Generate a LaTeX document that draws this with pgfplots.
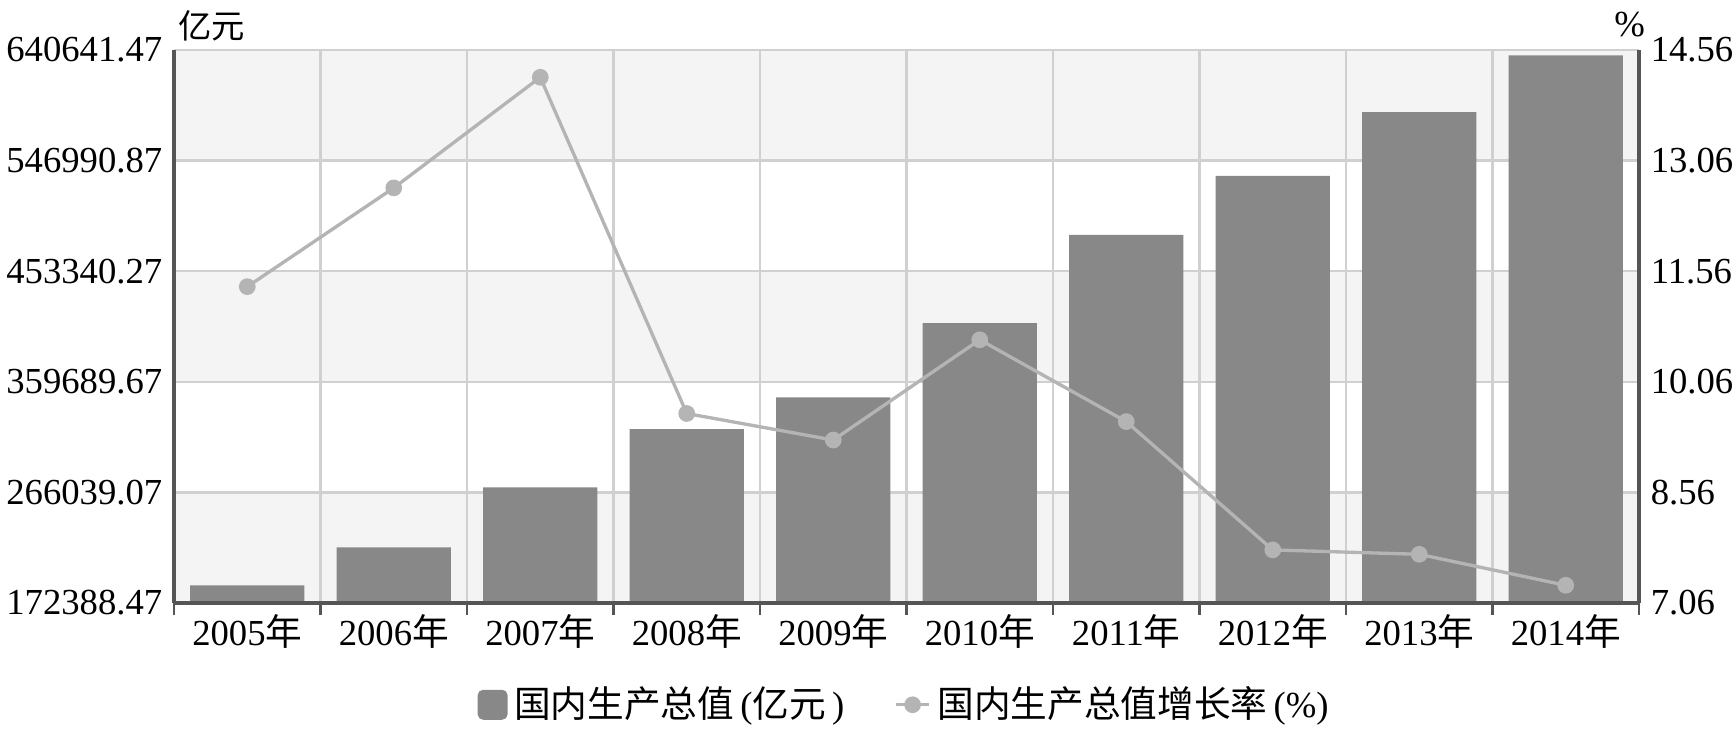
\documentclass[border=0pt]{standalone}
\usepackage{fontspec}
\setmainfont{Liberation Serif}
\newfontfamily\cjk{Noto Sans CJK SC}
\usepackage{pgfplots}
\pgfplotsset{compat=1.18}
\pgfplotsset{mylinelegend/.style={legend image code/.code={\draw[mark repeat=2,mark phase=2,##1] plot coordinates {(0pt,0pt) (5pt,0pt) (10pt,0pt)};}}}
\definecolor{bargray}{HTML}{888888}
\definecolor{linegray}{HTML}{B4B4B4}
\definecolor{gridgray}{HTML}{D0D0D0}
\definecolor{bandgray}{HTML}{F4F4F4}
\definecolor{axisdark}{HTML}{555555}
\begin{document}
\begin{tikzpicture}[font=\fontsize{11}{13}\selectfont]
\pgfplotsset{
  base/.style={scale only axis, width=439.5pt, height=165.9pt,
    xmin=-0.5, xmax=9.5, at={(0,0)}, anchor=south west, scaled y ticks=false},
}
% background bands
\begin{axis}[base, ymin=172388.46, ymax=640641.48, hide axis]
\fill[bandgray] (axis cs:-0.5,172388.47) rectangle (axis cs:9.5,266039.07);
\fill[bandgray] (axis cs:-0.5,359689.67) rectangle (axis cs:9.5,453340.27);
\fill[bandgray] (axis cs:-0.5,546990.87) rectangle (axis cs:9.5,640641.47);
\end{axis}
% left axis: GDP bars
\begin{axis}[base, ymin=172388.46, ymax=640641.48,
  axis x line*=bottom, axis y line*=left,
  axis line style={-, axisdark, line width=1pt},
  ytick={172388.47,266039.07,359689.67,453340.27,546990.87,640641.47},
  yticklabels={172388.47,266039.07,359689.67,453340.27,546990.87,640641.47},
  ymajorgrids, major grid style={gridgray, line width=0.7pt},
  xtick={0,1,2,3,4,5,6,7,8,9},
  xticklabels={2005{\cjk 年},2006{\cjk 年},2007{\cjk 年},2008{\cjk 年},2009{\cjk 年},2010{\cjk 年},2011{\cjk 年},2012{\cjk 年},2013{\cjk 年},2014{\cjk 年}},
  minor xtick={-0.5,0.5,1.5,2.5,3.5,4.5,5.5,6.5,7.5,8.5,9.5},
  xminorgrids, minor grid style={gridgray, line width=0.7pt},
  major tick length=0pt, minor tick length=3.5pt, tick align=outside,
  every minor tick/.append style={axisdark, line width=0.8pt},
  ytick style={draw=none},
]
\addplot[ybar, bar width=0.78, fill=bargray, draw=none] coordinates {
(0,187318.9) (1,219438.5) (2,270232.3) (3,319515.5) (4,346577.0)
(5,409323.0) (6,484123.5) (7,534123.0) (8,588018.8) (9,636138.7)};
\draw[axisdark, line width=1pt] (rel axis cs:0,0) -- (rel axis cs:1,0);
\end{axis}
% right axis: growth rate
\begin{axis}[base, ymin=7.0599, ymax=14.5601, clip=false,
  axis y line*=right, axis x line=none,
  axis line style={-, axisdark, line width=1pt},
  ytick={7.06,8.56,10.06,11.56,13.06,14.56},
  yticklabels={7.06,8.56,10.06,11.56,13.06,14.56},
  ytick style={draw=none}, major tick length=0pt,
  legend style={at={(0.5,-0.184)}, anchor=center, draw=none, fill=none,
    legend columns=2, font=\fontsize{11}{13}\selectfont,
    /tikz/every even column/.append style={column sep=13pt}},
  legend cell align=left,
]
\addlegendimage{legend image code/.code={\fill[bargray, rounded corners=1.5pt] (0pt,-4.3pt) rectangle (8.6pt,4.3pt);}}
\addlegendentry{{\cjk 国内生产总值}\,({\cjk 亿元}\,)}
\addplot[linegray, line width=1pt, mark=*, mark size=2pt,
  mark options={fill=linegray, draw=linegray}, mylinelegend]
  coordinates {
(0,11.35) (1,12.69) (2,14.19) (3,9.63) (4,9.27)
(5,10.63) (6,9.52) (7,7.78) (8,7.72) (9,7.30)};
\addlegendentry{{\cjk 国内生产总值增长率}\,(\%)}
\node[anchor=base west, inner sep=0pt, font=\fontsize{10}{12}\selectfont\cjk] at (rel axis cs:0,1) [xshift=1pt, yshift=3.5pt] {亿元};
\node[anchor=base east, inner sep=0pt] at (rel axis cs:1,1) [xshift=2pt, yshift=4pt] {\%};
\end{axis}
\pgfresetboundingbox
\path (-52.2pt,-38.1pt) rectangle (468.6pt,180.9pt);
\end{tikzpicture}
\end{document}
